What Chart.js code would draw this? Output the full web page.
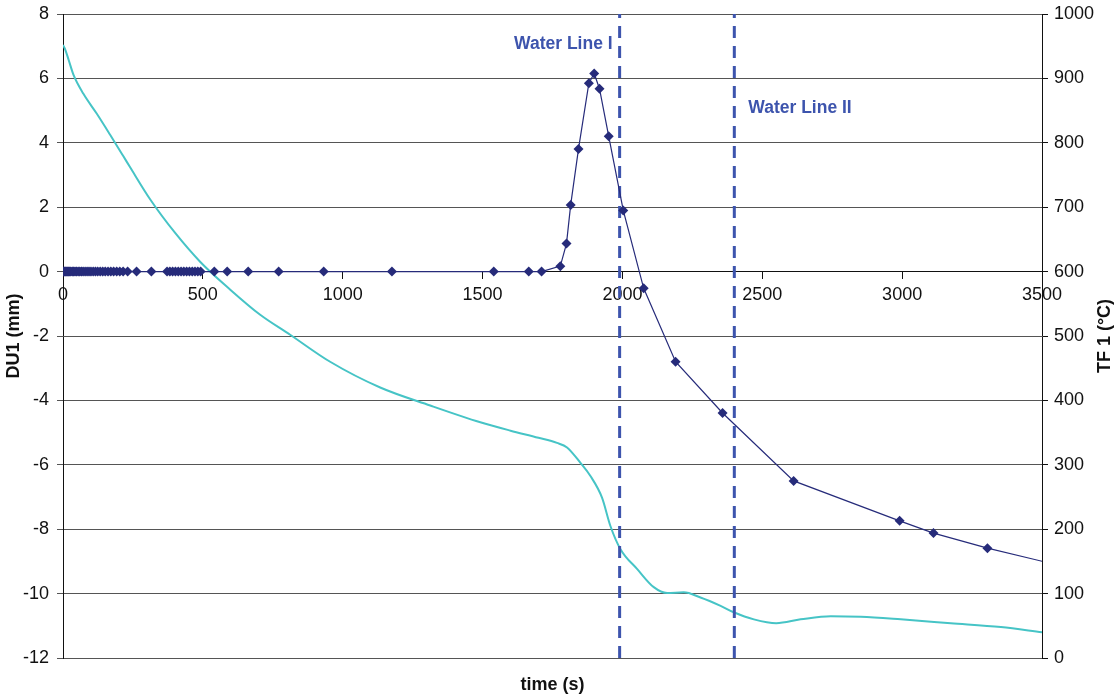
<!DOCTYPE html>
<html>
<head>
<meta charset="utf-8">
<script src="https://cdn.jsdelivr.net/npm/chart.js@4.4.0/dist/chart.umd.min.js"></script>
<style>
  html, body { margin: 0; padding: 0; background: #fff; }
  #wrap { width: 1118px; height: 698px; }
</style>
</head>
<body>
<div id="wrap"><canvas id="myChart"></canvas></div>
<script>
// DU1 (mm), left axis
var duTime = [0, 3, 6, 9, 12, 16, 20, 24, 28, 33, 38, 43, 48, 54, 60, 66, 72, 79, 86, 93, 100, 108, 116, 124, 133, 142, 151, 161, 171, 181, 192, 203, 215, 231, 263, 316, 372, 382, 392, 402, 412, 422, 432, 442, 452, 462, 472, 482, 492, 541, 587, 662, 771, 932, 1176, 1540, 1665, 1711, 1778, 1800, 1815, 1843, 1880, 1899, 1918, 1951, 2003, 2076, 2190, 2358, 2612, 2991, 3112, 3305, 3560];
var duValue = [0, 0, 0, 0, 0, 0, 0, 0, 0, 0, 0, 0, 0, 0, 0, 0, 0, 0, 0, 0, 0, 0, 0, 0, 0, 0, 0, 0, 0, 0, 0, 0, 0, 0, 0, 0, 0, 0, 0, 0, 0, 0, 0, 0, 0, 0, 0, 0, 0, 0, 0, 0, 0, 0, 0, 0, 0, 0, 0.17, 0.87, 2.07, 3.81, 5.85, 6.15, 5.68, 4.2, 1.9, -0.52, -2.8, -4.39, -6.5, -7.74, -8.12, -8.59, -9.12];

// TF 1 (°C), right axis
var tfTime = [0, 7, 20, 38, 73, 121, 169, 216, 240, 312, 401, 491, 598, 705, 812, 955, 1134, 1313, 1492, 1600, 1700, 1766, 1802, 1850, 1885, 1927, 1957, 1993, 2053, 2112, 2160, 2219, 2279, 2351, 2398, 2470, 2550, 2637, 2745, 2852, 2995, 3174, 3353, 3500];
var tfValue = [952, 946, 929, 905, 876, 845, 812, 779, 762, 712, 660, 615, 572, 533, 502, 460, 420, 392, 366, 353, 342, 334, 327, 303, 283, 249, 205, 169, 138, 110, 101, 102, 94, 81, 71, 60, 54, 60, 65, 64, 60, 54, 48, 40];

// water lines
var waterTime = [1990, 2400];
var waterLabel = ["Water Line I", "Water Line II"];
var waterLabelY = [7.05, 5.07];

var xTicks = [0, 500, 1000, 1500, 2000, 2500, 3000, 3500];

var duPoints = duTime.map((t, i) => ({ x: t, y: duValue[i] }));
var tfPoints = tfTime.map((t, i) => ({ x: t, y: tfValue[i] }));

var waterColor = '#3d54ad';
var datasets = [
    {
        label: 'TF 1',
        data: tfPoints,
        yAxisID: 'y1',
        borderColor: 'rgb(70,196,198)',
        borderWidth: 2,
        pointRadius: 0,
        cubicInterpolationMode: 'monotone',
        order: 3
    },
    {
        label: 'DU1',
        data: duPoints,
        yAxisID: 'y',
        borderColor: '#262b7a',
        backgroundColor: '#262b7a',
        borderWidth: 1.2,
        pointStyle: 'rectRot',
        pointRadius: 5,
        pointBorderWidth: 0,
        order: 1
    }
];
waterTime.forEach((t, i) => {
    datasets.push({
        label: waterLabel[i],
        data: [{ x: t, y: -12 }, { x: t, y: 8 }],
        yAxisID: 'y',
        borderColor: waterColor,
        borderWidth: 3,
        borderDash: [12, 8],
        pointRadius: 0,
        order: 2
    });
});

var textPlugin = {
    id: 'textPlugin',
    afterDraw(chart) {
        var ctx = chart.ctx;
        var area = chart.chartArea;
        var xs = chart.scales.x, ys = chart.scales.y;
        ctx.save();
        // water line labels
        ctx.font = 'bold 17.5px "Liberation Sans", Arial, sans-serif';
        ctx.fillStyle = waterColor;
        ctx.textBaseline = 'middle';
        waterTime.forEach((t, i) => {
            var px = xs.getPixelForValue(t);
            var py = ys.getPixelForValue(waterLabelY[i]);
            if (i === 0) {
                ctx.textAlign = 'right';
                ctx.fillText(waterLabel[i], px - 7, py);
            } else {
                ctx.textAlign = 'left';
                ctx.fillText(waterLabel[i], px + 14, py);
            }
        });
        // axis titles
        ctx.fillStyle = '#111';
        ctx.font = 'bold 18px "Liberation Sans", Arial, sans-serif';
        ctx.textAlign = 'center';
        ctx.fillText('time (s)', (area.left + area.right) / 2, 685);
        var midY = (area.top + area.bottom) / 2;
        ctx.save();
        ctx.translate(14, midY);
        ctx.rotate(-Math.PI / 2);
        ctx.fillText('DU1 (mm)', 0, 0);
        ctx.restore();
        ctx.save();
        ctx.translate(1105, midY);
        ctx.rotate(-Math.PI / 2);
        ctx.fillText('TF 1 (°C)', 0, 0);
        ctx.restore();
        ctx.restore();
    }
};

var tickFont = { family: '"Liberation Sans", Arial, sans-serif', size: 18 };
var plain = (v) => String(v);
var fitY = (w) => (scale) => {
    scale.width = w;
    scale.paddingTop = 0;
    scale.paddingBottom = 0;
};

var ctx = document.getElementById('myChart').getContext('2d');
var chart = new Chart(ctx, {
    type: 'line',
    data: { datasets: datasets },
    options: {
        responsive: true,
        maintainAspectRatio: false,
        animation: false,
        layout: { padding: { top: 14, bottom: 40, left: 0, right: 0 } },
        plugins: {
            legend: { display: false },
            tooltip: { enabled: false }
        },
        scales: {
            x: {
                type: 'linear',
                min: 0,
                max: 3500,
                position: { y: 0 },
                afterBuildTicks: (scale) => { scale.ticks = xTicks.map(v => ({ value: v })); },
                ticks: { color: '#111', font: tickFont, padding: 6, maxRotation: 0, callback: plain },
                grid: { drawOnChartArea: false, tickLength: 7, color: '#111' },
                border: { color: '#111', width: 1 }
            },
            y: {
                position: 'left',
                min: -12,
                max: 8,
                ticks: { stepSize: 2, color: '#111', font: tickFont, padding: 8, callback: plain },
                grid: { color: '#555', tickLength: 6 },
                border: { color: '#111', width: 1 },
                afterFit: fitY(63)
            },
            y1: {
                position: 'right',
                min: 0,
                max: 1000,
                ticks: { stepSize: 100, color: '#111', font: tickFont, padding: 6, callback: plain },
                grid: { drawOnChartArea: false, tickLength: 6, color: '#111' },
                border: { color: '#111', width: 1 },
                afterFit: fitY(76)
            }
        }
    },
    plugins: [textPlugin]
});
</script>
</body>
</html>
